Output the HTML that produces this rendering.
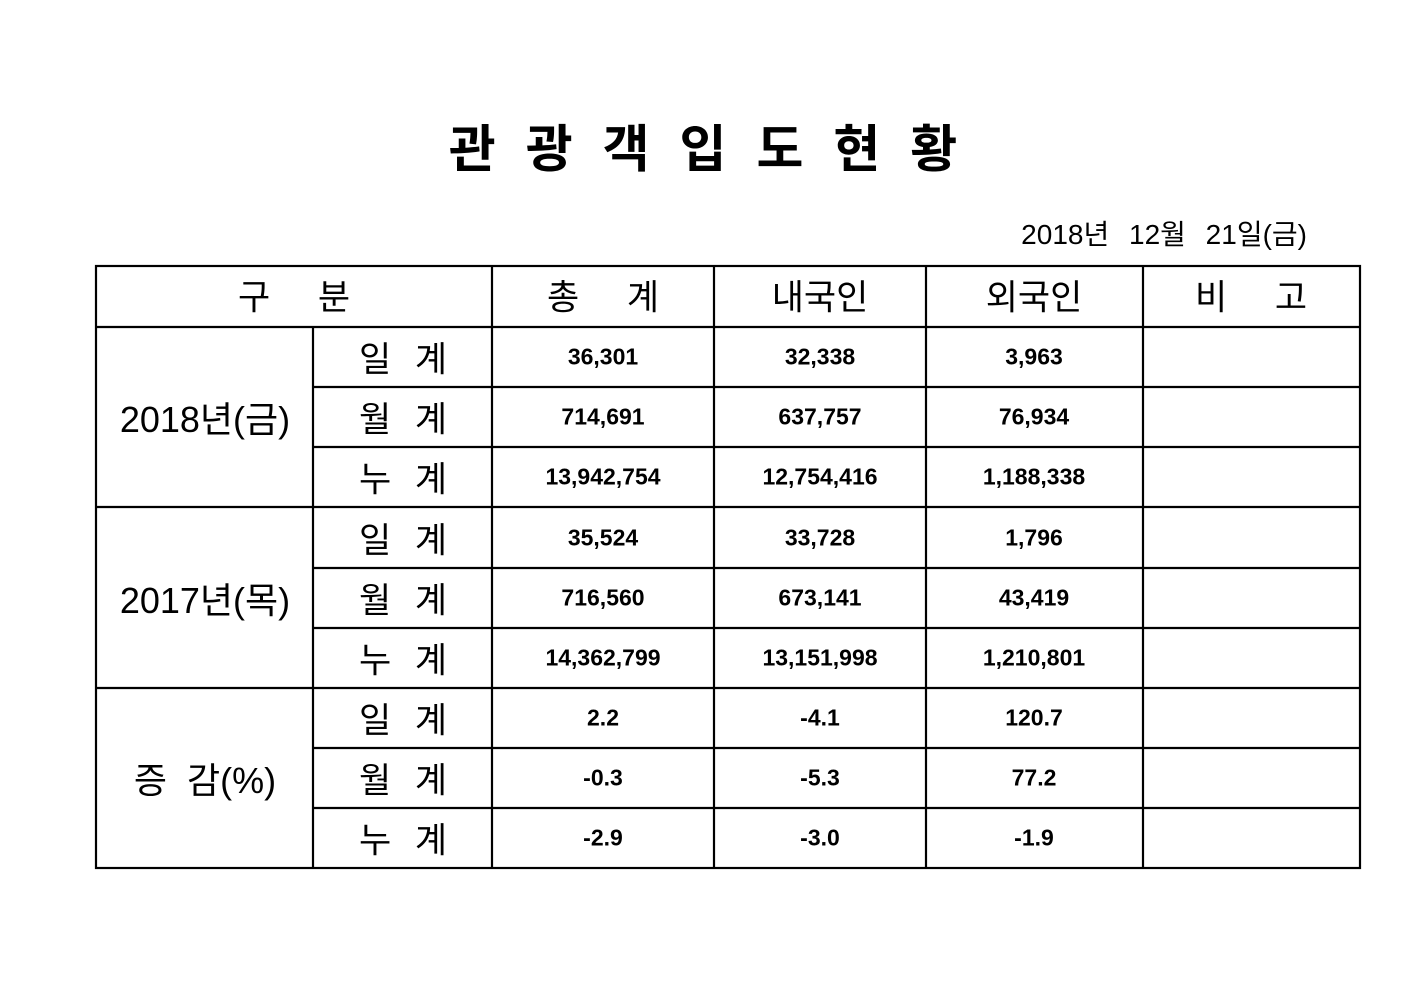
<!DOCTYPE html>
<html><head><meta charset="utf-8"><style>
body{margin:0;width:1403px;height:992px;background:#fff;position:relative;overflow:hidden;font-family:"Liberation Sans","Noto Sans CJK KR",sans-serif;color:#000}
.t{position:absolute;text-align:center;white-space:nowrap;transform:translate(-50%,-50%)}
.h{font-size:35px}
.n{font-size:23px;font-weight:bold}
</style></head><body>
<div class="t" style="left:703px;top:145px;font-size:51px;font-weight:bold;letter-spacing:30px;padding-left:30px">관광객입도현황</div>
<div style="position:absolute;right:96px;top:213px;font-size:28px;word-spacing:12px">2018년 12월 21일(금)</div>
<svg width="1403" height="992" style="position:absolute;left:0;top:0">
<g stroke="#000" stroke-width="2.2" fill="none">
<rect x="96" y="266" width="1264" height="602"/>
<line x1="96" y1="327" x2="1360" y2="327"/>
<line x1="96" y1="507" x2="1360" y2="507"/>
<line x1="96" y1="688" x2="1360" y2="688"/>
<line x1="313" y1="387" x2="1360" y2="387"/>
<line x1="313" y1="447" x2="1360" y2="447"/>
<line x1="313" y1="568" x2="1360" y2="568"/>
<line x1="313" y1="628" x2="1360" y2="628"/>
<line x1="313" y1="748" x2="1360" y2="748"/>
<line x1="313" y1="808" x2="1360" y2="808"/>
<line x1="313" y1="327" x2="313" y2="868"/>
<line x1="492" y1="266" x2="492" y2="868"/>
<line x1="714" y1="266" x2="714" y2="868"/>
<line x1="926" y1="266" x2="926" y2="868"/>
<line x1="1143" y1="266" x2="1143" y2="868"/>
</g></svg>
<div class="t h" style="left:294px;top:295px;word-spacing:38px">구 분</div>
<div class="t h" style="left:603px;top:295px;word-spacing:38px">총 계</div>
<div class="t h" style="left:820px;top:295px">내국인</div>
<div class="t h" style="left:1034px;top:295px">외국인</div>
<div class="t h" style="left:1251px;top:295px;word-spacing:38px">비 고</div>
<div class="t" style="left:205px;top:417px;font-size:36px">2018년(금)</div>
<div class="t" style="left:205px;top:598px;font-size:36px">2017년(목)</div>
<div class="t" style="left:205px;top:778px;font-size:36px;word-spacing:10px">증 감(%)</div>
<div class="t h" style="left:403px;top:357px;word-spacing:14px">일 계</div>
<div class="t h" style="left:403px;top:417px;word-spacing:14px">월 계</div>
<div class="t h" style="left:403px;top:477px;word-spacing:14px">누 계</div>
<div class="t h" style="left:403px;top:538px;word-spacing:14px">일 계</div>
<div class="t h" style="left:403px;top:598px;word-spacing:14px">월 계</div>
<div class="t h" style="left:403px;top:658px;word-spacing:14px">누 계</div>
<div class="t h" style="left:403px;top:718px;word-spacing:14px">일 계</div>
<div class="t h" style="left:403px;top:778px;word-spacing:14px">월 계</div>
<div class="t h" style="left:403px;top:838px;word-spacing:14px">누 계</div>

<div class="t n" style="left:603px;top:357px">36,301</div>
<div class="t n" style="left:820px;top:357px">32,338</div>
<div class="t n" style="left:1034px;top:357px">3,963</div>
<div class="t n" style="left:603px;top:417px">714,691</div>
<div class="t n" style="left:820px;top:417px">637,757</div>
<div class="t n" style="left:1034px;top:417px">76,934</div>
<div class="t n" style="left:603px;top:477px">13,942,754</div>
<div class="t n" style="left:820px;top:477px">12,754,416</div>
<div class="t n" style="left:1034px;top:477px">1,188,338</div>
<div class="t n" style="left:603px;top:538px">35,524</div>
<div class="t n" style="left:820px;top:538px">33,728</div>
<div class="t n" style="left:1034px;top:538px">1,796</div>
<div class="t n" style="left:603px;top:598px">716,560</div>
<div class="t n" style="left:820px;top:598px">673,141</div>
<div class="t n" style="left:1034px;top:598px">43,419</div>
<div class="t n" style="left:603px;top:658px">14,362,799</div>
<div class="t n" style="left:820px;top:658px">13,151,998</div>
<div class="t n" style="left:1034px;top:658px">1,210,801</div>
<div class="t n" style="left:603px;top:718px">2.2</div>
<div class="t n" style="left:820px;top:718px">-4.1</div>
<div class="t n" style="left:1034px;top:718px">120.7</div>
<div class="t n" style="left:603px;top:778px">-0.3</div>
<div class="t n" style="left:820px;top:778px">-5.3</div>
<div class="t n" style="left:1034px;top:778px">77.2</div>
<div class="t n" style="left:603px;top:838px">-2.9</div>
<div class="t n" style="left:820px;top:838px">-3.0</div>
<div class="t n" style="left:1034px;top:838px">-1.9</div>
</body></html>
